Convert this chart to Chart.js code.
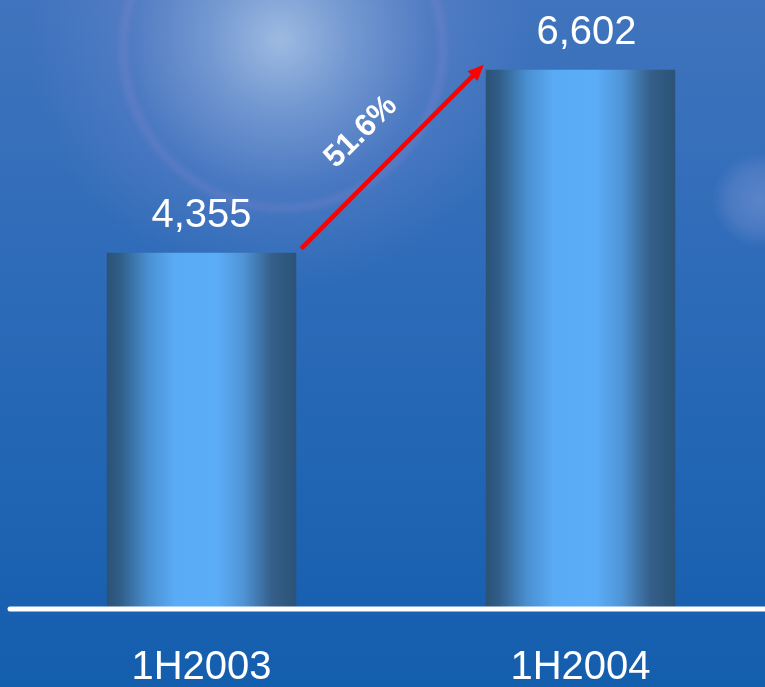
<!DOCTYPE html>
<html>
<head>
<meta charset="utf-8">
<script src="https://cdn.jsdelivr.net/npm/chart.js@4"></script>
<style>
  html, body { margin: 0; padding: 0; overflow: hidden; }
  body {
    width: 765px; height: 687px;
    background:
      radial-gradient(circle at 280px 40px, rgba(170,196,230,0.88) 0px, rgba(150,176,222,0.62) 70px, rgba(128,146,212,0.28) 150px, rgba(110,130,200,0) 250px),
      radial-gradient(circle at 760px 200px, rgba(140,160,220,0.45) 0px, rgba(130,150,215,0.3) 30px, rgba(120,140,210,0) 48px),
      linear-gradient(180deg, #4074bd 0%, #306cb9 35%, #2266b4 65%, #145eae 100%);
  }
  #wrap { position: absolute; left: 0; top: 0; width: 770px; height: 687px; }
</style>
</head>
<body>
<div id="wrap"><canvas id="chart"></canvas></div>
<script>
const periods = ['1H2003', '1H2004'];
const revenue = [4355, 6602];

const textFont = '"Liberation Sans", Arial, sans-serif';
const barShare = 0.5;

// horizontal shading so the bars look like cylinders
function cylinderFill(ctx) {
    const chart = ctx.chart;
    const xs = chart.scales.x;
    if (!chart.chartArea || !xs) return '#5aacf6';
    const w = chart.chartArea.width / periods.length * barShare;
    const x0 = xs.getPixelForValue(ctx.dataIndex) - w / 2;
    const g = chart.ctx.createLinearGradient(x0, 0, x0 + w, 0);
    g.addColorStop(0, '#2c5276');
    g.addColorStop(0.07, '#305d88');
    g.addColorStop(0.22, '#4a90d2');
    g.addColorStop(0.36, '#5aabf5');
    g.addColorStop(0.58, '#5cadf8');
    g.addColorStop(0.72, '#4f94d6');
    g.addColorStop(0.87, '#355f8a');
    g.addColorStop(1, '#2c5276');
    return g;
}

const decorations = {
    id: 'decorations',
    beforeDatasetsDraw(chart) {
        // faint halo ring around the glow
        const c = chart.ctx;
        c.save();
        c.strokeStyle = 'rgba(190,150,220,0.18)';
        c.lineWidth = 7;
        c.filter = 'blur(3px)';
        c.beginPath();
        c.arc(283, 48, 160, 0, Math.PI * 2);
        c.stroke();
        c.restore();
    },
    afterDatasetsDraw(chart) {
        const c = chart.ctx;
        const bars = chart.getDatasetMeta(0).data;
        const y0 = chart.scales.y.getPixelForValue(0);

        // baseline
        c.save();
        c.strokeStyle = '#ffffff';
        c.lineWidth = 5;
        c.lineCap = 'round';
        c.beginPath();
        c.moveTo(10, y0 + 2);
        c.lineTo(chart.width, y0 + 2);
        c.stroke();

        // value labels
        c.fillStyle = '#ffffff';
        c.font = '40px ' + textFont;
        c.textAlign = 'center';
        c.textBaseline = 'alphabetic';
        bars.forEach((bar, i) => {
            c.fillText(revenue[i].toLocaleString('en-US'), bar.x + (i ? 6 : 0), bar.y - 26);
        });

        // growth arrow between the bar tops
        const a = bars[0], b = bars[1];
        const sx = a.x + a.width / 2 + 5, sy = a.y - 4;
        const ex = b.x - b.width / 2 - 2, ey = b.y - 5;
        const ang = Math.atan2(ey - sy, ex - sx);
        const head = 16;
        c.strokeStyle = '#ff0000';
        c.fillStyle = '#ff0000';
        c.lineWidth = 4.5;
        c.lineCap = 'butt';
        c.beginPath();
        c.moveTo(sx, sy);
        c.lineTo(ex - head * 0.8 * Math.cos(ang), ey - head * 0.8 * Math.sin(ang));
        c.stroke();
        c.beginPath();
        c.moveTo(ex, ey);
        c.lineTo(ex - head * Math.cos(ang) + 7 * Math.sin(ang), ey - head * Math.sin(ang) - 7 * Math.cos(ang));
        c.lineTo(ex - head * Math.cos(ang) - 7 * Math.sin(ang), ey - head * Math.sin(ang) + 7 * Math.cos(ang));
        c.closePath();
        c.fill();

        // growth rate along the arrow
        const growth = ((revenue[1] / revenue[0] - 1) * 100).toFixed(1) + '%';
        c.translate(361, 132);
        c.rotate(-0.78);
        c.fillStyle = '#ffffff';
        c.font = 'bold 31px ' + textFont;
        c.textBaseline = 'middle';
        c.fillText(growth, 0, 0);
        c.restore();
    }
};

new Chart(document.getElementById('chart'), {
    type: 'bar',
    data: {
        labels: periods,
        datasets: [{
            data: revenue,
            backgroundColor: cylinderFill,
            borderWidth: 0,
            categoryPercentage: 1,
            barPercentage: barShare
        }]
    },
    options: {
        responsive: true,
        maintainAspectRatio: false,
        animation: false,
        layout: { padding: { left: 12, right: 0, top: 0, bottom: 0 } },
        plugins: {
            legend: { display: false },
            tooltip: { enabled: false }
        },
        scales: {
            x: {
                grid: { display: false, drawTicks: false },
                border: { display: false },
                ticks: {
                    color: '#ffffff',
                    padding: 37,
                    font: { family: textFont, size: 40 }
                },
                afterFit: s => { s.height = 80; }
            },
            y: {
                display: false,
                min: 0,
                max: 7460
            }
        }
    },
    plugins: [decorations]
});
</script>
</body>
</html>
